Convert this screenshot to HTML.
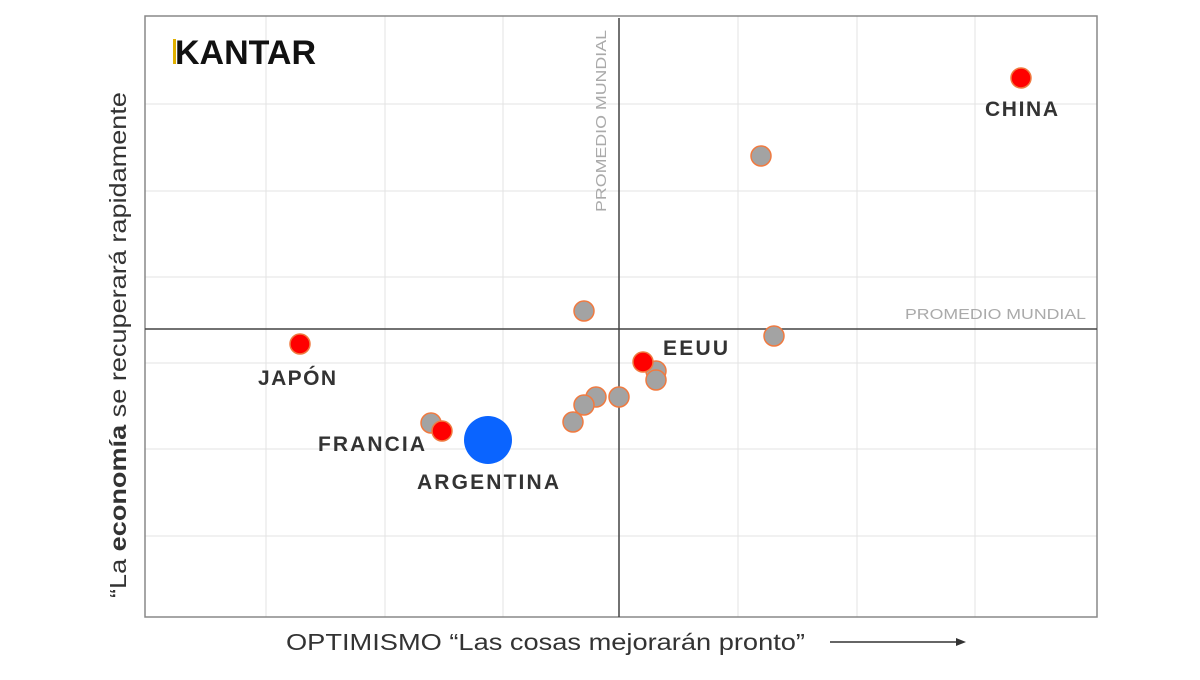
<!DOCTYPE html>
<html><head><meta charset="utf-8"><style>
body{margin:0;background:#fff;width:1200px;height:675px;overflow:hidden}
</style></head><body>
<svg width="1200" height="675" xmlns="http://www.w3.org/2000/svg" font-family="Liberation Sans, sans-serif">
<rect x="0" y="0" width="1200" height="675" fill="#fff"/>
<g stroke="#e3e3e3" stroke-width="1">
<line x1="266" y1="16" x2="266" y2="617"/><line x1="385" y1="16" x2="385" y2="617"/><line x1="503" y1="16" x2="503" y2="617"/><line x1="738" y1="16" x2="738" y2="617"/><line x1="857" y1="16" x2="857" y2="617"/><line x1="975" y1="16" x2="975" y2="617"/>
<line x1="145" y1="104" x2="1097" y2="104"/><line x1="145" y1="191" x2="1097" y2="191"/><line x1="145" y1="277" x2="1097" y2="277"/><line x1="145" y1="363" x2="1097" y2="363"/><line x1="145" y1="449" x2="1097" y2="449"/><line x1="145" y1="536" x2="1097" y2="536"/>
</g>
<rect x="145" y="16" width="952" height="601" fill="none" stroke="#888" stroke-width="1.5"/>
<line x1="145" y1="329" x2="1097" y2="329" stroke="#444" stroke-width="1.5"/>
<line x1="619" y1="18" x2="619" y2="617" stroke="#444" stroke-width="1.5"/>
<rect x="173" y="39" width="3" height="25" fill="#e0b000"/>
<text x="175" y="64" font-size="34" font-weight="bold" fill="#111" textLength="141" lengthAdjust="spacingAndGlyphs">KANTAR</text>
<text transform="translate(606,212) rotate(-90)" font-size="15" fill="#aaa" textLength="182" lengthAdjust="spacingAndGlyphs">PROMEDIO MUNDIAL</text>
<text x="905" y="319" font-size="15" fill="#aaa" textLength="181" lengthAdjust="spacingAndGlyphs">PROMEDIO MUNDIAL</text>
<g fill="#a3a3a3" stroke="#f07a40" stroke-width="1.5">
<circle cx="761" cy="156" r="10"/><circle cx="584" cy="311" r="10"/><circle cx="774" cy="336" r="10"/>
<circle cx="656" cy="371" r="10"/><circle cx="656" cy="380" r="10"/><circle cx="619" cy="397" r="10"/>
<circle cx="596" cy="397" r="10"/><circle cx="584" cy="405" r="10"/><circle cx="573" cy="422" r="10"/>
<circle cx="431" cy="423" r="10"/>
</g>
<g fill="#f00" stroke="#f07a40" stroke-width="1.5">
<circle cx="1021" cy="78" r="10"/><circle cx="300" cy="344" r="10"/><circle cx="643" cy="362" r="10"/><circle cx="442" cy="431" r="10"/>
</g>
<circle cx="488" cy="440" r="24" fill="#0a64ff"/>
<g font-size="21" font-weight="bold" fill="#333" lengthAdjust="spacingAndGlyphs">
<text x="985" y="116" textLength="73">CHINA</text><text x="258" y="385" textLength="78">JAPÓN</text><text x="663" y="355" textLength="65">EEUU</text>
<text x="318" y="451" textLength="107">FRANCIA</text><text x="417" y="489" textLength="142">ARGENTINA</text>
</g>
<text x="286" y="650" font-size="23" fill="#333" textLength="519" lengthAdjust="spacingAndGlyphs">OPTIMISMO “Las cosas mejorarán pronto”</text>
<line x1="830" y1="642" x2="958" y2="642" stroke="#333" stroke-width="1.5"/>
<polygon points="966,642 956,638 956,646" fill="#333"/>
<text transform="translate(126,598) rotate(-90)" font-size="23" fill="#333" textLength="506" lengthAdjust="spacingAndGlyphs">“La <tspan font-weight="bold">economía</tspan> se recuperará rapidamente</text>
</svg>
</body></html>
